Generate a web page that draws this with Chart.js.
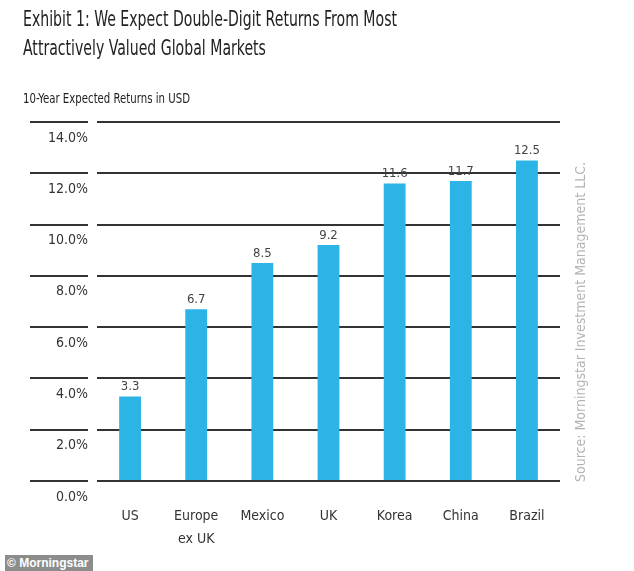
<!DOCTYPE html>
<html>
<head>
<meta charset="utf-8">
<script src="https://cdn.jsdelivr.net/npm/chart.js@4.4.1/dist/chart.umd.min.js"></script>
<style>
  html, body { margin: 0; padding: 0; background: #fff; }
  #wrap { position: relative; width: 634px; height: 571px; }
  #badge {
    position: absolute; left: 5px; top: 555px; width: 88px; height: 16px;
    background: #8c8c8c; color: #fff; font: bold 12px 'Liberation Sans', Arial, sans-serif;
    line-height: 16px; padding-left: 2px; box-sizing: border-box;
  }
</style>
</head>
<body>
<div id="wrap">
  <canvas id="chart" width="634" height="571"></canvas>
  <div id="badge">© Morningstar</div>
</div>
<script>
const FONT = "'DejaVu Sans Condensed', 'DejaVu Sans', sans-serif";

const markets = [['US'], ['Europe', 'ex UK'], ['Mexico'], ['UK'], ['Korea'], ['China'], ['Brazil']];
const returns = [3.3, 6.7, 8.5, 9.2, 11.6, 11.7, 12.5];
const titleLines = ['Exhibit 1: We Expect Double-Digit Returns From Most', 'Attractively Valued Global Markets'];
const subtitleText = '10-Year Expected Returns in USD';
const sourceText = 'Source: Morningstar Investment Management LLC.';

// the original uses a very narrow face, so squeeze the heading text sideways
function narrowText(ctx, text, x, y, font, targetWidth) {
    ctx.save();
    ctx.font = font;
    const k = targetWidth / ctx.measureText(text).width;
    ctx.translate(x, y);
    ctx.scale(k, 1);
    ctx.fillText(text, 0, 0);
    ctx.restore();
}

const extras = {
    id: 'extras',
    afterDraw(chart) {
        const ctx = chart.ctx;
        const y = chart.scales.y;
        ctx.save();

        // headings
        ctx.fillStyle = '#222';
        ctx.textAlign = 'left';
        ctx.textBaseline = 'alphabetic';
        ctx.font = '21px ' + FONT;
        const k = 374 / ctx.measureText(titleLines[0]).width;
        titleLines.forEach((line, i) => {
            narrowText(ctx, line, 23, 26 + i * 29, '21px ' + FONT, ctx.measureText(line).width * k);
        });
        narrowText(ctx, subtitleText, 23, 103, '14px ' + FONT, 167);

        // short grid stubs under the y tick labels
        ctx.strokeStyle = '#333';
        ctx.lineWidth = 2;
        y.ticks.forEach(t => {
            const py = Math.round(y.getPixelForValue(t.value));
            ctx.beginPath();
            ctx.moveTo(30, py);
            ctx.lineTo(88, py);
            ctx.stroke();
        });

        // value labels over the bars
        ctx.fillStyle = '#444';
        ctx.font = '13px ' + FONT;
        ctx.textAlign = 'center';
        ctx.textBaseline = 'bottom';
        chart.getDatasetMeta(0).data.forEach((bar, i) => {
            ctx.fillText(returns[i].toFixed(1), bar.x, bar.y - 3);
        });

        // source note
        ctx.translate(581, 322);
        ctx.rotate(-Math.PI / 2);
        ctx.fillStyle = '#b3b3b3';
        ctx.font = '14px ' + FONT;
        ctx.textBaseline = 'middle';
        ctx.fillText(sourceText, 0, 0);
        ctx.restore();
    }
};

new Chart(document.getElementById('chart'), {
    type: 'bar',
    data: {
        labels: markets,
        datasets: [{
            data: returns,
            backgroundColor: '#2db4e6',
            barPercentage: 0.66,
            categoryPercentage: 0.5
        }]
    },
    options: {
        responsive: false,
        animation: false,
        layout: { padding: { left: 0, right: 74, top: 122, bottom: 20 } },
        plugins: {
            legend: { display: false },
            tooltip: { enabled: false }
        },
        scales: {
            x: {
                afterFit(scale) { scale.height = 70; },
                grid: { display: false },
                border: { display: false },
                ticks: {
                    color: '#333',
                    padding: 16,
                    maxRotation: 0,
                    font: { family: FONT, size: 14, lineHeight: '23px' }
                }
            },
            y: {
                min: 0,
                max: 14,
                afterFit(scale) { scale.width = 97; },
                border: { display: false },
                grid: { color: '#333', lineWidth: 2, drawTicks: false },
                ticks: {
                    stepSize: 2,
                    color: '#333',
                    padding: 9,
                    labelOffset: 16,
                    font: { family: FONT, size: 14 },
                    callback: v => v.toFixed(1) + '%'
                }
            }
        }
    },
    plugins: [extras]
});
</script>
</body>
</html>
